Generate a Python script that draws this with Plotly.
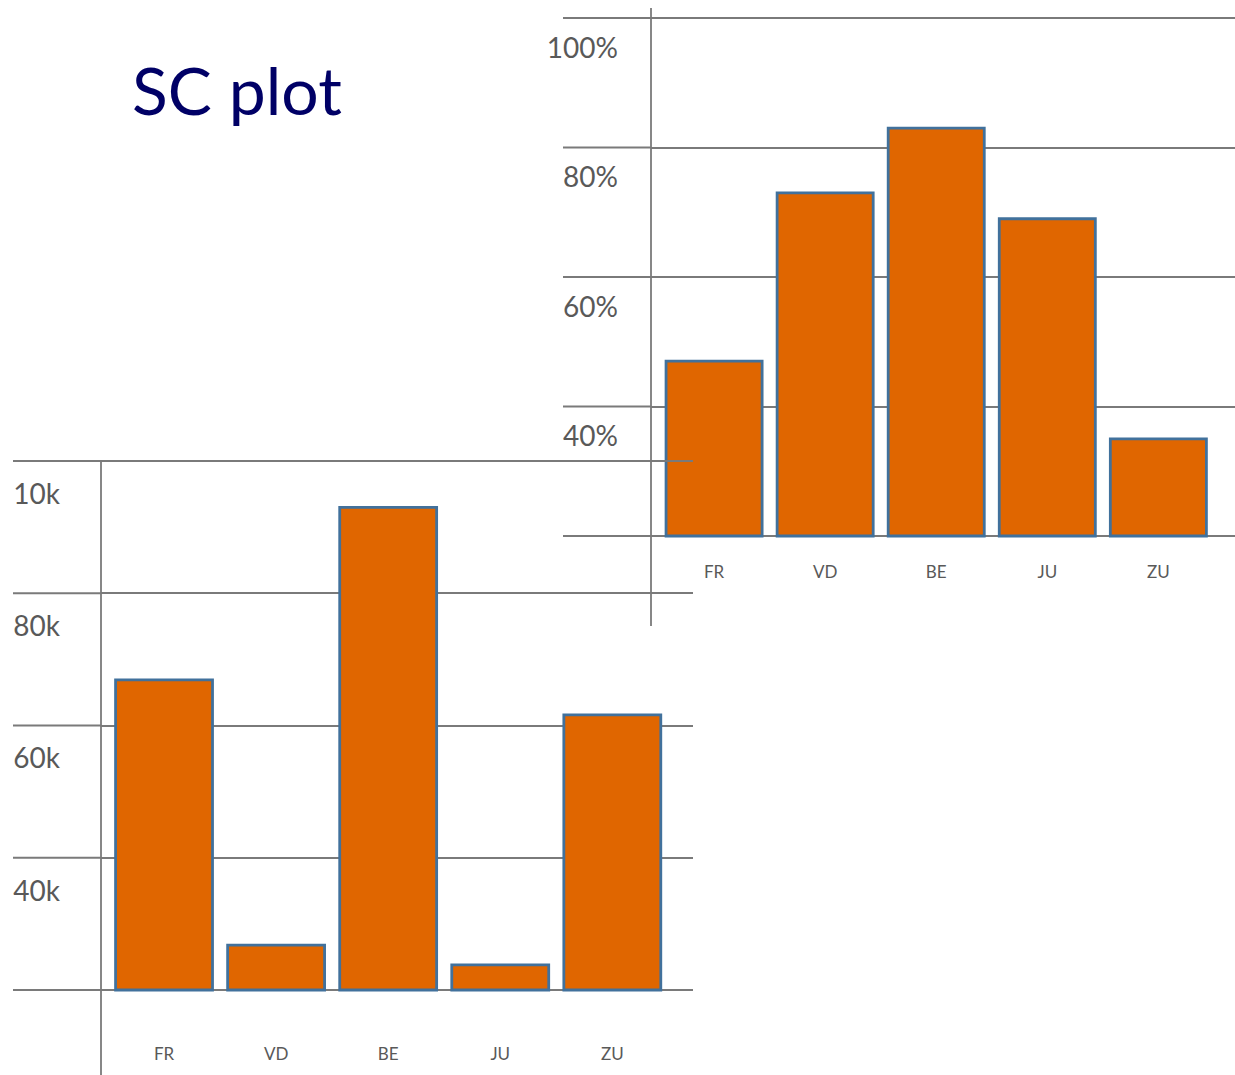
import plotly.graph_objects as go

# ---------------- data ----------------
categories = ["FR", "VD", "BE", "JU", "ZU"]

share_values = [47, 73, 83, 69, 35]            # top-right chart, percent
share_ticks = [20, 40, 60, 80, 100]
share_ticktext = ["", "40%", "60%", "80%", "100%"]
share_base = 20

count_values = [66.9, 26.8, 93.0, 23.8, 61.6]  # bottom-left chart, thousands
count_ticks = [20, 40, 60, 80, 100]
count_ticktext = ["", "40k", "60k", "80k", "10k"]
count_base = 20

title_text = "SC plot"

# ---------------- styling ----------------
W, H = 1235, 1075
BAR_FILL = "#E06600"
BAR_LINE = "#41719C"
GRID = "#7a7a7a"
TXT = "#595959"
FONT = "Lato"


def px(x):
    return x / W


def py(y):
    return 1 - y / H


fig = go.Figure()

fig.add_trace(go.Bar(
    x=categories, y=[v - share_base for v in share_values], base=share_base,
    xaxis="x", yaxis="y",
    marker=dict(color=BAR_FILL, line=dict(color=BAR_LINE, width=2.8)),
    hoverinfo="skip",
))
fig.add_trace(go.Bar(
    x=categories, y=[v - count_base for v in count_values], base=count_base,
    xaxis="x2", yaxis="y2",
    marker=dict(color=BAR_FILL, line=dict(color=BAR_LINE, width=2.8)),
    hoverinfo="skip",
))

shapes = []
# top chart: y axis line and gridline extensions to the left
shapes.append(dict(type="line", xref="paper", yref="paper",
                   x0=px(651), x1=px(651), y0=py(8), y1=py(626),
                   line=dict(color=GRID, width=1.8)))
for t in share_ticks:
    shapes.append(dict(type="line", xref="paper", yref="y",
                       x0=px(563), x1=px(651), y0=t, y1=t,
                       line=dict(color=GRID, width=1.8)))
# bottom chart
shapes.append(dict(type="line", xref="paper", yref="paper",
                   x0=px(101), x1=px(101), y0=py(461), y1=0,
                   line=dict(color=GRID, width=1.8)))
for t in count_ticks:
    shapes.append(dict(type="line", xref="paper", yref="y2",
                       x0=px(13), x1=px(101), y0=t, y1=t,
                       line=dict(color=GRID, width=1.8)))

fig.update_layout(
    width=W, height=H,
    margin=dict(l=0, r=0, t=0, b=0, pad=0),
    paper_bgcolor="white",
    plot_bgcolor="rgba(0,0,0,0)",
    showlegend=False,
    bargap=0.135,
    font=dict(family=FONT, color=TXT),
    xaxis=dict(domain=[px(651), 1], range=[-0.568, 4.69], automargin=False,
               showgrid=False, zeroline=False, showline=False, ticks="",
               tickfont=dict(size=17, color=TXT), ticklabelstandoff=14,
               fixedrange=True),
    yaxis=dict(domain=[py(546), py(8)], automargin=False,
               range=[20 - 10 / 6.475, 100 + 10 / 6.475],
               tickmode="array", tickvals=share_ticks, ticktext=share_ticktext,
               showgrid=True, gridcolor=GRID, gridwidth=1.8,
               zeroline=False, showline=False, ticks="",
               tickfont=dict(size=28, color=TXT),
               ticklabelshift=30, ticklabelstandoff=32, fixedrange=True),
    xaxis2=dict(domain=[px(101), px(693)], range=[-0.5625, 4.72],
                anchor="y2", automargin=False,
                showgrid=False, zeroline=False, showline=False, ticks="",
                tickfont=dict(size=17, color=TXT), ticklabelstandoff=42,
                fixedrange=True),
    yaxis2=dict(domain=[py(1000), py(455)], automargin=False,
                range=[20 - 10 / 6.6125, 100 + 6 / 6.6125],
                anchor="x2",
                tickmode="array", tickvals=count_ticks, ticktext=count_ticktext,
                showgrid=True, gridcolor=GRID, gridwidth=1.8,
                zeroline=False, showline=False, ticks="",
                tickfont=dict(size=28, color=TXT),
                ticklabelshift=33, ticklabelstandoff=40, fixedrange=True),
    shapes=shapes,
    annotations=[dict(text=title_text, xref="paper", yref="paper",
                      x=px(130), y=py(89), xanchor="left", yanchor="middle",
                      showarrow=False,
                      font=dict(family=FONT, size=66, color="#000066"))],
)

fig.write_html("out.html", config={"displayModeBar": False},
               post_script="document.body.style.margin='0';")
